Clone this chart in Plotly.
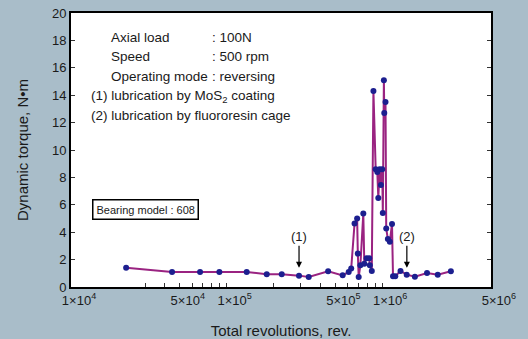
import math
import plotly.graph_objects as go

revolutions = [22600, 44600, 67500, 89800, 134600, 181000, 226000, 292000, 337000,
               449000, 557000, 609000, 632000, 664000, 690000, 697000, 706000, 724000,
               756000, 767000, 794000, 825000, 832000, 857000, 878000, 908000, 930000,
               944000, 962000, 981000, 1000000, 1009000, 1025000, 1031000, 1050000,
               1061000, 1087000, 1119000, 1156000, 1173000, 1213000, 1311000, 1437000,
               1622000, 1941000, 2274000, 2762000]
torque = [1.4, 1.1, 1.1, 1.1, 1.1, 0.93, 0.93, 0.83, 0.73,
          1.15, 0.85, 1.1, 1.35, 4.64, 5.0, 2.44, 0.73, 1.59,
          5.37, 1.7, 2.1, 2.1, 1.59, 1.17, 14.3, 8.6, 8.4,
          6.5, 8.6, 7.45, 8.6, 5.4, 15.1, 12.7, 13.5,
          4.27, 3.5, 3.3, 4.6, 0.78, 0.78, 1.17, 0.9,
          0.75, 1.02, 0.9, 1.15]

label_vals = [1e4, 5e4, 1e5, 5e5, 1e6, 5e6]
label_text = ["1×10<sup>4</sup>", "5×10<sup>4</sup>", "1×10<sup>5</sup>",
              "5×10<sup>5</sup>", "1×10<sup>6</sup>", "5×10<sup>6</sup>"]
minor_vals = [3e4, 4e4, 6e4, 7e4, 8e4, 9e4, 2e5, 3e5, 4e5, 6e5, 7e5, 8e5, 9e5]

y_ticks = [0, 2, 4, 6, 8, 10, 12, 14, 16, 18, 20]

conditions_left = ["Axial load", "Speed", "Operating mode"]
conditions_right = [": 100N", ": 500 rpm", ": reversing"]
notes = ["(1) lubrication by MoS<sub>2</sub> coating", "(2) lubrication by fluororesin cage"]
arrow_marks = [(292000, "(1)"), (1440000, "(2)")]

FONT = "Liberation Sans, Arial, sans-serif"
BG = "#a9bdc9"
xrange = [math.log10(1e4) - 0.0002, math.log10(5e6) + 0.0002]

fig = go.Figure()
fig.add_trace(go.Scatter(
    x=revolutions, y=torque, mode="lines+markers",
    line=dict(color="#9a2381", width=2),
    marker=dict(color="#1c1f8f", size=6),
    showlegend=False, hoverinfo="x+y",
))

fig.update_layout(
    width=528, height=339,
    margin=dict(l=71, r=37, t=13, b=52, autoexpand=False),
    paper_bgcolor=BG, plot_bgcolor="white",
    font=dict(family=FONT, size=13, color="#1a1a1a"),
    xaxis=dict(
        type="log", range=xrange, automargin=False,
        tickvals=label_vals, ticktext=label_text,
        ticks="inside", ticklen=4, tickcolor="#333", tickwidth=1,
        minor=dict(tickvals=minor_vals, ticks="inside", ticklen=4,
                   tickcolor="#333", tickwidth=1, showgrid=False),
        showline=True, linecolor="black", linewidth=2, mirror=True,
        showgrid=False, zeroline=False,
        ticklabelshift=8, tickfont=dict(size=13),
        title=dict(text="Total revolutions, rev.", font=dict(size=15), standoff=20),
    ),
    yaxis=dict(
        range=[0, 20], tickvals=y_ticks, automargin=False,
        ticks="inside", ticklen=4, tickcolor="#333", tickwidth=1,
        showline=True, linecolor="black", linewidth=2, mirror="ticks",
        showgrid=False, zeroline=False, tickfont=dict(size=13),
        title=dict(text="Dynamic torque, N•m", font=dict(size=15), standoff=20),
    ),
)

# condition block
line_y = [0.909, 0.84, 0.769]
for i, (a, b) in enumerate(zip(conditions_left, conditions_right)):
    fig.add_annotation(xref="paper", yref="paper", x=0.09, y=line_y[i], text=a,
                       showarrow=False, xanchor="left", yanchor="middle",
                       font=dict(size=13.5, family=FONT, color="#1a1a1a"))
    fig.add_annotation(xref="paper", yref="paper", x=0.331, y=line_y[i], text=b,
                       showarrow=False, xanchor="left", yanchor="middle",
                       font=dict(size=13.5, family=FONT, color="#1a1a1a"))
for i, t in enumerate(notes):
    fig.add_annotation(xref="paper", yref="paper", x=0.042, y=0.697 - 0.071 * i, text=t,
                       showarrow=False, xanchor="left", yanchor="middle",
                       font=dict(size=13.5, family=FONT, color="#1a1a1a"))

fig.add_annotation(xref="paper", yref="paper", x=0.05, y=0.282,
                   text="Bearing model : 608", showarrow=False,
                   xanchor="left", yanchor="middle",
                   font=dict(size=11, family=FONT, color="#1a1a1a"),
                   bordercolor="black", borderwidth=1.5, borderpad=3, bgcolor="white")

for xv, lab in arrow_marks:
    fig.add_annotation(x=math.log10(xv), y=1.4, ax=0, ay=-31, xref="x", yref="y",
                       text=lab, showarrow=True, arrowhead=2, arrowsize=1,
                       arrowwidth=1.2, arrowcolor="black", standoff=0,
                       font=dict(size=13, family=FONT, color="#1a1a1a"))

fig.write_html("out.html")
